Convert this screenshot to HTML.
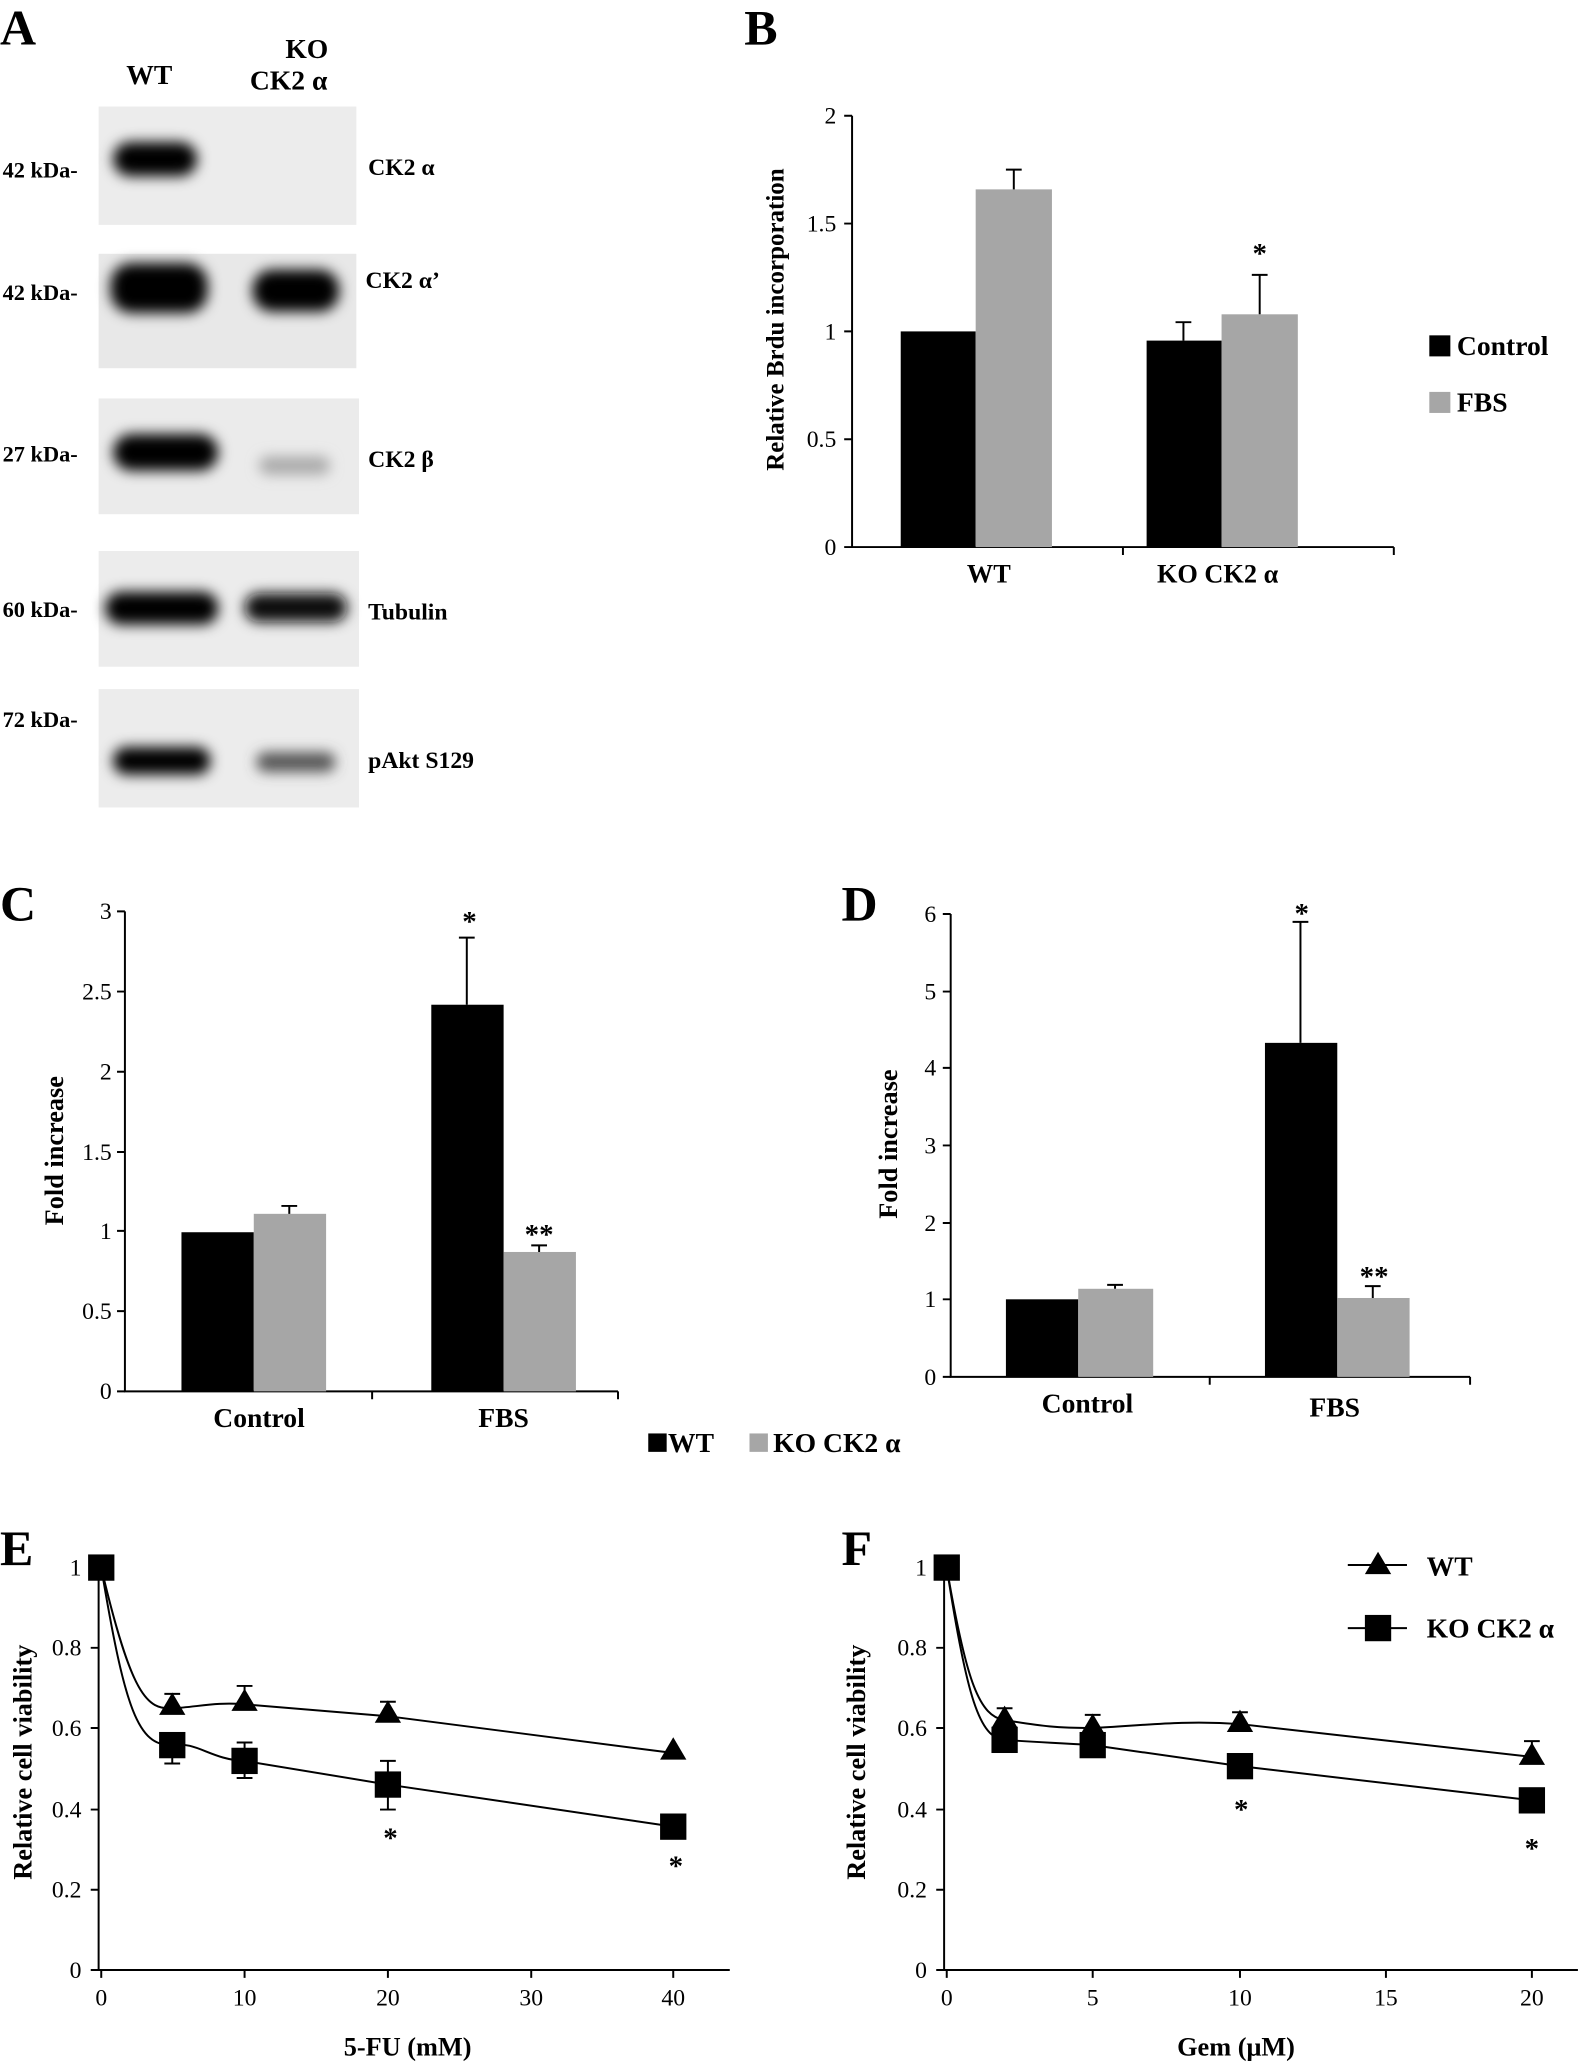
<!DOCTYPE html>
<html><head><style>html,body{margin:0;padding:0;background:#fff}svg{display:block}svg text{font-family:"Liberation Serif",serif}</style></head><body>
<svg width="1595" height="2066" viewBox="0 0 1213 1571" preserveAspectRatio="none" xmlns="http://www.w3.org/2000/svg" font-weight="bold">
<defs>
<filter id="bl" x="-50%" y="-100%" width="200%" height="300%"><feGaussianBlur stdDeviation="5"/></filter>
</defs>
<rect width="1213" height="1571" fill="#fff"/>
<!-- Panel A -->
<text x="0" y="34" font-size="38">A</text>
<text x="96" y="64" font-size="21">WT</text>
<text x="217" y="44" font-size="21">KO</text>
<text x="190" y="68" font-size="21">CK2 α</text>
<g font-size="17">
<text x="2" y="135">42 kDa-</text>
<text x="2" y="228">42 kDa-</text>
<text x="2" y="351">27 kDa-</text>
<text x="2" y="469">60 kDa-</text>
<text x="2" y="553">72 kDa-</text>
</g>
<g font-size="18">
<text x="280" y="133">CK2 α</text>
<text x="278" y="219">CK2 α’</text>
<text x="280" y="355">CK2 β</text>
<text x="280" y="471">Tubulin</text>
<text x="280" y="584">pAkt S129</text>
</g>
<rect x="75" y="81" width="196" height="90" fill="#ececec"/>
<rect x="75" y="193" width="196" height="87" fill="#e8e8e8"/>
<rect x="75" y="303" width="198" height="88" fill="#ebebeb"/>
<rect x="75" y="419" width="198" height="88" fill="#ececec"/>
<rect x="75" y="524" width="198" height="90" fill="#ececec"/>
<g filter="url(#bl)">
<rect x="86" y="108" width="64" height="26" rx="13" fill="#000"/>
<rect x="84" y="200" width="74" height="38" rx="16" fill="#000"/>
<rect x="192" y="205" width="66" height="32" rx="15" fill="#000"/>
<rect x="86" y="330" width="80" height="28" rx="14" fill="#000"/>
<rect x="197" y="347" width="54" height="14" rx="7" fill="#aaa"/>
<rect x="80" y="450" width="86" height="25" rx="12" fill="#000"/>
<rect x="186" y="451" width="78" height="22" rx="11" fill="#111"/>
<rect x="86" y="568" width="74" height="21" rx="10" fill="#000"/>
<rect x="195" y="572" width="60" height="15" rx="7" fill="#555"/>
</g>
<!-- Panel B -->
<text x="566" y="34" font-size="38">B</text>
<g stroke="#000" stroke-width="1.5" fill="none">
<path d="M648,88 V416 H1060"/>
<path d="M642,88H648M642,170H648M642,252H648M642,334H648M642,416H648M854,416v6M1060,416v6"/>
</g>
<g font-size="18" text-anchor="end" font-weight="normal">
<text x="636" y="94">2</text><text x="636" y="176">1.5</text><text x="636" y="258">1</text><text x="636" y="340">0.5</text><text x="636" y="422">0</text>
</g>
<text transform="translate(596,243) rotate(-90)" font-size="19" text-anchor="middle">Relative Brdu incorporation</text>
<rect x="685" y="252" width="57" height="164" fill="#000"/>
<rect x="742" y="144" width="58" height="272" fill="#a6a6a6"/>
<rect x="872" y="259" width="57" height="157" fill="#000"/>
<rect x="929" y="239" width="58" height="177" fill="#a6a6a6"/>
<g stroke="#000" stroke-width="1.5"><path d="M771,144V129M765,129H777M900,259V245M894,245H906M958,239V209M952,209H964"/></g>
<text x="958" y="200" font-size="22" text-anchor="middle">*</text>
<text x="752" y="443" font-size="20" text-anchor="middle">WT</text>
<text x="926" y="443" font-size="20" text-anchor="middle">KO CK2 α</text>
<rect x="1087" y="255" width="16" height="16" fill="#000"/>
<text x="1108" y="270" font-size="21">Control</text>
<rect x="1087" y="298" width="16" height="16" fill="#a6a6a6"/>
<text x="1108" y="313" font-size="21">FBS</text>
<!-- Panel C -->
<text x="0" y="700" font-size="38">C</text>
<g stroke="#000" stroke-width="1.5" fill="none">
<path d="M95,693 V1058 H470"/>
<path d="M89,693H95M89,754H95M89,815H95M89,876H95M89,936H95M89,997H95M89,1058H95M283,1058v6M470,1058v6"/>
</g>
<g font-size="18" text-anchor="end" font-weight="normal">
<text x="85" y="699">3</text><text x="85" y="760">2.5</text><text x="85" y="821">2</text><text x="85" y="882">1.5</text><text x="85" y="942">1</text><text x="85" y="1003">0.5</text><text x="85" y="1064">0</text>
</g>
<text transform="translate(48,875) rotate(-90)" font-size="20" text-anchor="middle">Fold increase</text>
<rect x="138" y="937" width="55" height="121" fill="#000"/>
<rect x="193" y="923" width="55" height="135" fill="#a6a6a6"/>
<rect x="328" y="764" width="55" height="294" fill="#000"/>
<rect x="383" y="952" width="55" height="106" fill="#a6a6a6"/>
<g stroke="#000" stroke-width="1.5"><path d="M220,923V917M214,917H226M355,764V713M349,713H361M410,952V947M404,947H416"/></g>
<text x="357" y="708" font-size="22" text-anchor="middle">*</text>
<text x="410" y="946" font-size="22" text-anchor="middle">**</text>
<text x="197" y="1085" font-size="21" text-anchor="middle">Control</text>
<text x="383" y="1085" font-size="21" text-anchor="middle">FBS</text>
<!-- Panel D -->
<text x="640" y="700" font-size="38">D</text>
<g stroke="#000" stroke-width="1.5" fill="none">
<path d="M723,695 V1047 H1118"/>
<path d="M717,695H723M717,754H723M717,812H723M717,871H723M717,930H723M717,988H723M717,1047H723M920,1047v6M1118,1047v6"/>
</g>
<g font-size="18" text-anchor="end" font-weight="normal">
<text x="712" y="701">6</text><text x="712" y="760">5</text><text x="712" y="818">4</text><text x="712" y="877">3</text><text x="712" y="936">2</text><text x="712" y="994">1</text><text x="712" y="1053">0</text>
</g>
<text transform="translate(682,870) rotate(-90)" font-size="20" text-anchor="middle">Fold increase</text>
<rect x="765" y="988" width="55" height="59" fill="#000"/>
<rect x="820" y="980" width="57" height="67" fill="#a6a6a6"/>
<rect x="962" y="793" width="55" height="254" fill="#000"/>
<rect x="1017" y="987" width="55" height="60" fill="#a6a6a6"/>
<g stroke="#000" stroke-width="1.5"><path d="M848,980V977M842,977H854M989,793V701M983,701H995M1044,987V978M1038,978H1050"/></g>
<text x="990" y="702" font-size="22" text-anchor="middle">*</text>
<text x="1045" y="978" font-size="22" text-anchor="middle">**</text>
<text x="827" y="1074" font-size="21" text-anchor="middle">Control</text>
<text x="1015" y="1077" font-size="21" text-anchor="middle">FBS</text>
<!-- middle legend -->
<rect x="493" y="1090" width="14" height="14" fill="#000"/>
<text x="508" y="1104" font-size="21">WT</text>
<rect x="570" y="1090" width="14" height="14" fill="#a6a6a6"/>
<text x="588" y="1104" font-size="21">KO CK2 α</text>
<!-- Panel E -->
<text x="0" y="1190" font-size="38">E</text>
<g stroke="#000" stroke-width="1.5" fill="none">
<path d="M75,1192 V1498 H555"/>
<path d="M69,1192H75M69,1253H75M69,1314H75M69,1376H75M69,1437H75M69,1498H75M77,1498v6M186,1498v6M295,1498v6M404,1498v6M512,1498v6"/>
</g>
<g font-size="18" font-weight="normal">
<g text-anchor="end"><text x="62" y="1198">1</text><text x="62" y="1259">0.8</text><text x="62" y="1320">0.6</text><text x="62" y="1382">0.4</text><text x="62" y="1443">0.2</text><text x="62" y="1504">0</text></g>
<g text-anchor="middle"><text x="77" y="1525">0</text><text x="186" y="1525">10</text><text x="295" y="1525">20</text><text x="404" y="1525">30</text><text x="512" y="1525">40</text></g>
</g>
<text transform="translate(24,1340) rotate(-90)" font-size="20" text-anchor="middle">Relative cell viability</text>
<text x="310" y="1563" font-size="20" text-anchor="middle">5-FU (mM)</text>
<g stroke="#000" stroke-width="1.5" fill="none">
<path d="M77,1192 C100,1290 112,1300 131,1299 C150,1298 165,1294 186,1296 L295,1305 L512,1333"/>
<path d="M77,1192 C95,1300 105,1328 131,1327 C150,1324 160,1338 186,1339 L295,1357 L512,1389"/>
<path d="M131,1299V1288M125,1288H137M186,1296V1282M180,1282H192M295,1305V1294M289,1294H301"/>
<path d="M131,1327V1341M125,1341H137M186,1339V1352M180,1352H192M295,1357V1376M289,1376H301M295,1357V1339M289,1339H301M186,1339V1325M180,1325H192"/>
</g>
<g fill="#000">
<path d="M131,1287 l10,17 h-20z"/><path d="M186,1284 l10,17 h-20z"/><path d="M295,1293 l10,17 h-20z"/><path d="M512,1321 l10,17 h-20z"/>
<rect x="67" y="1182" width="20" height="20"/><rect x="121" y="1317" width="20" height="20"/><rect x="176" y="1329" width="20" height="20"/><rect x="285" y="1347" width="20" height="20"/><rect x="502" y="1379" width="20" height="20"/>
</g>
<text x="297" y="1405" font-size="22" text-anchor="middle">*</text>
<text x="514" y="1426" font-size="22" text-anchor="middle">*</text>
<!-- Panel F -->
<text x="640" y="1190" font-size="38">F</text>
<g stroke="#000" stroke-width="1.5" fill="none">
<path d="M718,1192 V1498 H1200"/>
<path d="M712,1192H718M712,1253H718M712,1314H718M712,1376H718M712,1437H718M712,1498H718M720,1498v6M831,1498v6M943,1498v6M1054,1498v6M1165,1498v6"/>
</g>
<g font-size="18" font-weight="normal">
<g text-anchor="end"><text x="705" y="1198">1</text><text x="705" y="1259">0.8</text><text x="705" y="1320">0.6</text><text x="705" y="1382">0.4</text><text x="705" y="1443">0.2</text><text x="705" y="1504">0</text></g>
<g text-anchor="middle"><text x="720" y="1525">0</text><text x="831" y="1525">5</text><text x="943" y="1525">10</text><text x="1054" y="1525">15</text><text x="1165" y="1525">20</text></g>
</g>
<text transform="translate(658,1340) rotate(-90)" font-size="20" text-anchor="middle">Relative cell viability</text>
<text x="940" y="1563" font-size="20" text-anchor="middle">Gem (μM)</text>
<g stroke="#000" stroke-width="1.5" fill="none">
<path d="M720,1192 C735,1280 745,1305 764,1308 C790,1312 800,1314 831,1314 C870,1312 900,1308 943,1311 L1165,1336"/>
<path d="M720,1192 C735,1290 745,1322 764,1323 C790,1325 800,1325 831,1327 L943,1343 L1165,1369"/>
<path d="M764,1308V1299M758,1299H770M831,1314V1304M825,1304H837M943,1311V1302M937,1302H949M1165,1336V1324M1159,1324H1171"/>
<path d="M1025,1190H1070M1025,1238H1070"/>
</g>
<g fill="#000">
<path d="M764,1297 l10,17 h-20z"/><path d="M831,1303 l10,17 h-20z"/><path d="M943,1300 l10,17 h-20z"/><path d="M1165,1325 l10,17 h-20z"/>
<rect x="710" y="1182" width="20" height="20"/><rect x="754" y="1313" width="20" height="20"/><rect x="821" y="1317" width="20" height="20"/><rect x="933" y="1333" width="20" height="20"/><rect x="1155" y="1359" width="20" height="20"/>
<path d="M1048,1180 l10,17 h-20z"/><rect x="1038" y="1228" width="20" height="20"/>
</g>
<text x="944" y="1383" font-size="22" text-anchor="middle">*</text>
<text x="1165" y="1413" font-size="22" text-anchor="middle">*</text>
<text x="1085" y="1198" font-size="21">WT</text>
<text x="1085" y="1245" font-size="21">KO CK2 α</text>
</svg>
</body></html>
